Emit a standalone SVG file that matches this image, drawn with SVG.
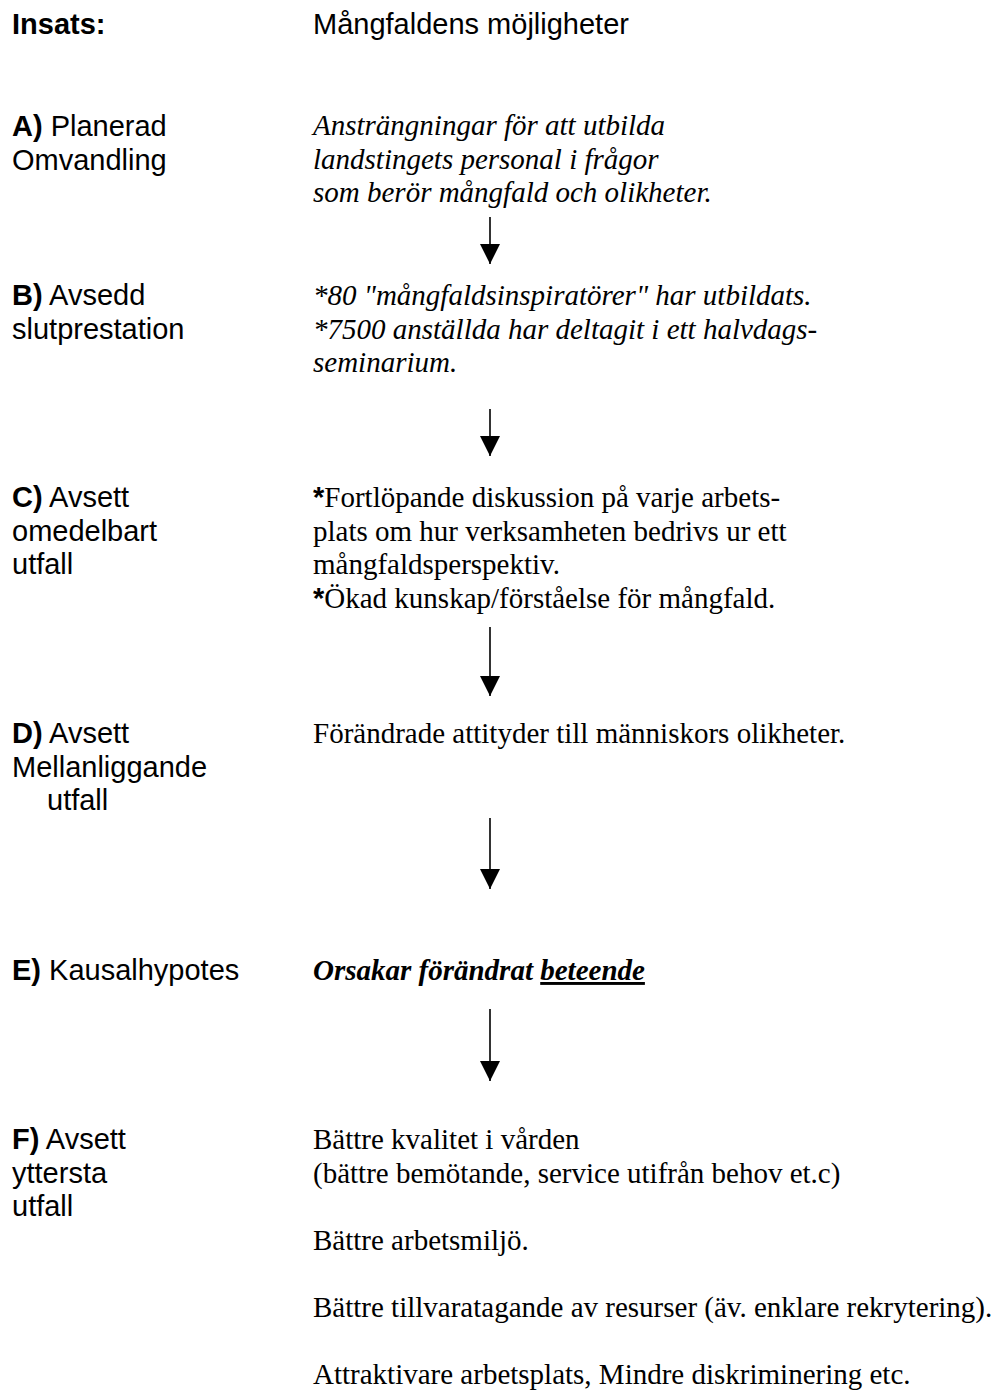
<svg xmlns="http://www.w3.org/2000/svg" width="1003" height="1391" viewBox="0 0 1003 1391">
<style>
.lbl{font-family:"Liberation Sans",Arial,sans-serif;font-size:29px;fill:#000}
.b{font-weight:bold}
.txt{font-family:"Liberation Serif","Times New Roman",serif;font-size:29px;fill:#000}
.it{font-style:italic}
.ast{font-family:"Liberation Sans",Arial,sans-serif;font-weight:bold;font-style:normal}
.conn{stroke:#000;stroke-width:1.6;fill:none}
</style>
<defs>
<marker id="ah" viewBox="0 0 20 20" refX="20" refY="10" markerWidth="20" markerHeight="20" markerUnits="userSpaceOnUse" orient="auto">
<path d="M0,0 L20,10 L0,20 z" fill="#000"/>
</marker>
</defs>
<rect width="1003" height="1391" fill="#fff"/>
<g id="header">
<text class="lbl b" x="12" y="34">Insats:</text>
<text class="lbl" x="313" y="34">Mångfaldens möjligheter</text>
</g>
<g id="nodeA">
<text class="lbl" x="12" y="136"><tspan class="b">A)</tspan> Planerad</text>
<text class="lbl" x="12" y="169.5">Omvandling</text>
<text class="txt it" x="313" y="135">Ansträngningar för att utbilda</text>
<text class="txt it" x="313" y="168.5">landstingets personal i frågor</text>
<text class="txt it" x="313" y="202">som berör mångfald och olikheter.</text>
</g>
<g id="nodeB">
<text class="lbl" x="12" y="305"><tspan class="b">B)</tspan> Avsedd</text>
<text class="lbl" x="12" y="338.5">slutprestation</text>
<text class="txt it" x="313" y="305">*80 "mångfaldsinspiratörer" har utbildats.</text>
<text class="txt it" x="313" y="338.5">*7500 anställda har deltagit i ett halvdags-</text>
<text class="txt it" x="313" y="372">seminarium.</text>
</g>
<g id="nodeC">
<text class="lbl" x="12" y="507"><tspan class="b">C)</tspan> Avsett</text>
<text class="lbl" x="12" y="540.5">omedelbart</text>
<text class="lbl" x="12" y="574">utfall</text>
<text class="txt" x="313" y="507"><tspan class="ast">*</tspan>Fortlöpande diskussion på varje arbets-</text>
<text class="txt" x="313" y="540.5">plats om hur verksamheten bedrivs ur ett</text>
<text class="txt" x="313" y="574">mångfaldsperspektiv.</text>
<text class="txt" x="313" y="607.5"><tspan class="ast">*</tspan>Ökad kunskap/förståelse för mångfald.</text>
</g>
<g id="nodeD">
<text class="lbl" x="12" y="743"><tspan class="b">D)</tspan> Avsett</text>
<text class="lbl" x="12" y="776.5">Mellanliggande</text>
<text class="lbl" x="47" y="810">utfall</text>
<text class="txt" x="313" y="743">Förändrade attityder till människors olikheter.</text>
</g>
<g id="nodeE">
<text class="lbl" x="12" y="980"><tspan class="b">E)</tspan> Kausalhypotes</text>
<text class="txt it b" x="313" y="980">Orsakar förändrat <tspan text-decoration="underline">beteende</tspan></text>
</g>
<g id="nodeF">
<text class="lbl" x="12" y="1149"><tspan class="b">F)</tspan> Avsett</text>
<text class="lbl" x="12" y="1182.5">yttersta</text>
<text class="lbl" x="12" y="1216">utfall</text>
<text class="txt" x="313" y="1149">Bättre kvalitet i vården</text>
<text class="txt" x="313" y="1182.5">(bättre bemötande, service utifrån behov et.c)</text>
<text class="txt" x="313" y="1249.5">Bättre arbetsmiljö.</text>
<text class="txt" x="313" y="1316.5">Bättre tillvaratagande av resurser (äv. enklare rekrytering).</text>
<text class="txt" x="313" y="1383.5">Attraktivare arbetsplats, Mindre diskriminering etc.</text>
</g>
<g id="connectors">
<line class="conn" x1="490" y1="217" x2="490" y2="264" marker-end="url(#ah)"/>
<line class="conn" x1="490" y1="409" x2="490" y2="456" marker-end="url(#ah)"/>
<line class="conn" x1="490" y1="627" x2="490" y2="696" marker-end="url(#ah)"/>
<line class="conn" x1="490" y1="818" x2="490" y2="889" marker-end="url(#ah)"/>
<line class="conn" x1="490" y1="1009" x2="490" y2="1081" marker-end="url(#ah)"/>
</g>
</svg>
